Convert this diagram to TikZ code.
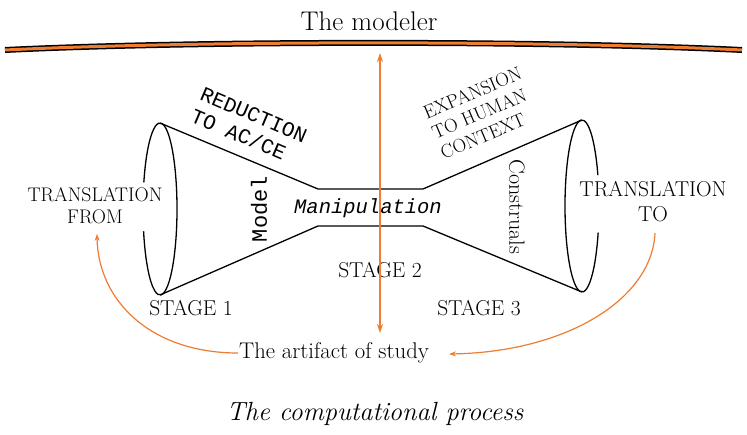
\documentclass[tikz,border=0pt]{standalone}
\usepackage{fontspec}
\newfontfamily\monof{Liberation Mono}
\usetikzlibrary{arrows.meta,calc}
\definecolor{orng}{RGB}{237,125,49}
\begin{document}
\begin{tikzpicture}[x=1pt,y=-1pt,
  outline/.style={black,line width=1.3pt,line join=round},
  oarr/.style={orng,line width=1.2pt,-{Stealth[length=7pt,width=5pt]}},
  vline/.style={orng,line width=2pt,{Stealth[length=9pt,width=6pt]}-{Stealth[length=9pt,width=6pt]}},
  lbl/.style={inner sep=1pt,align=center},
  big/.style={lbl,font=\fontsize{27}{30}\selectfont},
  caps/.style={lbl,font=\fontsize{20}{23}\selectfont},
  stage/.style={lbl,font=\fontsize{21.5}{24}\selectfont},
  mono/.style={lbl,font=\monof\fontsize{21}{24}\selectfont}]
\useasboundingbox (0,0) rectangle (747,435);

% top bar
\coordinate (bl) at (5,50);
\coordinate (br) at (742,50);
\draw[black,line width=6pt] (bl) .. controls (200,40.5) and (547,40.5) .. (br);
\draw[orng,line width=3pt] (bl) .. controls (200,40.5) and (547,40.5) .. (br);
\node[big] (mod) at (369,21) {The modeler};

% hourglass
\coordinate (lt) at (160,123); \coordinate (lb) at (160,295);
\coordinate (ml1) at (318,189); \coordinate (ml2) at (318,226);
\coordinate (mr1) at (423,189); \coordinate (mr2) at (423,226);
\coordinate (rt) at (582,120); \coordinate (rb) at (582,292);
\coordinate (lc) at (160,209); \coordinate (rc) at (582,206);
\draw[outline] (lt) -- (ml1) -- (mr1) -- (rt);
\draw[outline] (lb) -- (ml2) -- (mr2) -- (rb);
\draw[outline] ($(lc)+(198:17 and 86)$) arc[start angle=198,end angle=525,x radius=17,y radius=86];
\draw[outline] ($(rc)+(18:17 and 86)$) arc[start angle=18,end angle=339,x radius=17,y radius=86];

% labels
\node[mono,rotate=-23,align=left] (red) at (249,126) {REDUCTION\\TO AC/CE};
\node[mono,rotate=90,font=\monof\fontsize{22}{24}\selectfont] (model) at (259,209) {Model};
\node[mono,font=\monof\itshape\fontsize{20.5}{24}\selectfont] (manip) at (368,208) {Manipulation};
\node[lbl,rotate=23,align=left,font=\fontsize{19}{22}\selectfont] (exp) at (481,113) {EXPANSION\\TO HUMAN\\CONTEXT};
\node[lbl,rotate=-90,font=\fontsize{22}{24}\selectfont] (cons) at (517,207) {Construals};
\node[caps,font=\fontsize{19.7}{22}\selectfont] (tfrom) at (95,206) {TRANSLATION\\FROM};
\node[caps,font=\fontsize{21.5}{25}\selectfont] (tto) at (653,202) {TRANSLATION\\TO};
\node[stage] (s1) at (191,308) {STAGE 1};
\node[stage] (s2) at (380,270) {STAGE 2};
\node[stage] (s3) at (479,308) {STAGE 3};
\node[big,font=\fontsize{22.7}{26}\selectfont] (art) at (334,353) {The artifact of study};
\node[big,font=\itshape\fontsize{26.3}{30}\selectfont] (cap) at (375,414) {The computational process};

% orange connectors
\coordinate (vt) at (380,53);
\coordinate (vb) at (380,333);
\draw[vline] (vt) -- (vb);
\coordinate (tfa) at (97,234);
\coordinate (tta) at (655,233);
\coordinate (arte) at (449,354);
\draw[oarr] (art.west) .. controls (150,353) and (98,300) .. (tfa);
\draw[oarr] (tta) .. controls (652,300) and (565,352) .. (arte);
\end{tikzpicture}
\end{document}
